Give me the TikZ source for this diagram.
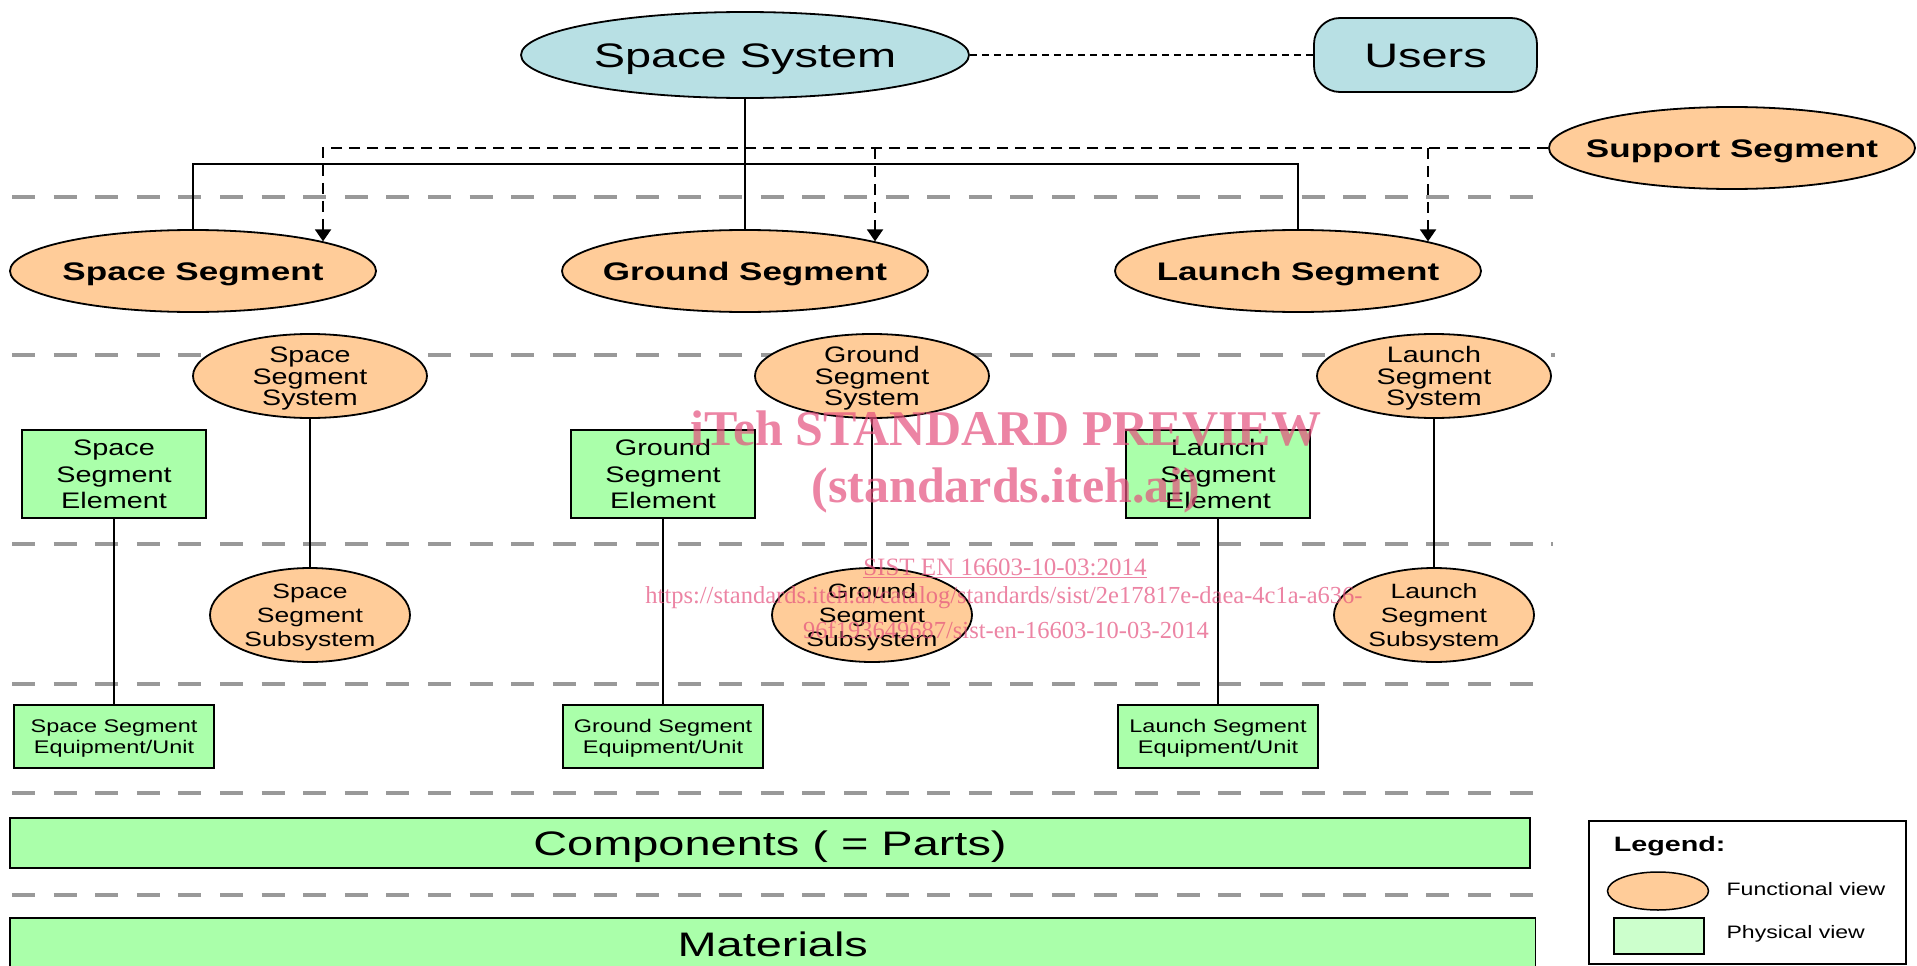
\documentclass[tikz,border=0pt]{standalone}
\usepackage{fontspec}
\setmainfont{Liberation Sans}[FakeStretch=1.28]
\newfontfamily\widesans{Liberation Sans}[FakeStretch=1.38]
\newfontfamily\markfont{Liberation Serif}
\usetikzlibrary{shapes.geometric,arrows.meta}
\definecolor{sysblue}{RGB}{184,224,228}
\definecolor{funcorange}{RGB}{255,204,153}
\definecolor{physgreen}{RGB}{170,255,170}
\definecolor{legendgreen}{RGB}{204,255,204}
\definecolor{sepgray}{RGB}{153,153,153}
\definecolor{markpink}{RGB}{228,80,125}

\begin{document}
\begin{tikzpicture}[x=1pt,y=-1pt,
    every node/.style={inner sep=0pt,line width=1.8pt},
    topnode/.style={draw,ellipse,fill=sysblue,minimum width=448pt,minimum height=86pt,
      text height=24.4pt,text depth=0pt,font=\widesans\fontsize{34}{40}\selectfont},
    userbox/.style={draw,rounded corners=26pt,fill=sysblue,minimum width=223pt,minimum height=74pt,
      text height=24.4pt,text depth=0pt,font=\widesans\fontsize{34}{40}\selectfont},
    segnode/.style={draw,ellipse,fill=funcorange,inner xsep=-30pt,minimum width=366pt,minimum height=82pt,
      text height=18.3pt,text depth=0pt,font=\widesans\bfseries\fontsize{25.4}{30}\selectfont},
    sysnode/.style={draw,ellipse,fill=funcorange,align=center,minimum width=234pt,minimum height=84pt,
      text height=58.4pt,text depth=0pt,font=\fontsize{22.4}{21.2}\selectfont},
    subnode/.style={draw,ellipse,fill=funcorange,align=center,minimum width=200pt,minimum height=94pt,
      text height=63.4pt,text depth=0pt,font=\fontsize{20.7}{24.2}\selectfont},
    elembox/.style={draw,fill=physgreen,align=center,minimum width=184pt,minimum height=88pt,
      text height=69.6pt,text depth=0pt,font=\fontsize{22.5}{26.7}\selectfont},
    unitbox/.style={draw,fill=physgreen,align=center,minimum width=200pt,minimum height=63pt,
      text height=34.3pt,text depth=0pt,font=\fontsize{18.3}{21}\selectfont},
    layerbox/.style={draw,fill=physgreen,minimum height=50pt,
      text height=24.4pt,text depth=0pt,font=\widesans\fontsize{34}{40}\selectfont},
    seprule/.style={sepgray,line width=4.3pt,dash pattern=on 23pt off 18.6pt},
    link/.style={line width=2pt},
    supply/.style={line width=2pt,dash pattern=on 11pt off 7pt,-{Triangle[width=16pt,length=12pt]}},
    wmark/.style={text=markpink,text opacity=0.7,anchor=base},
  ]
  \useasboundingbox (0,0) rectangle (1917,966);

  \draw[seprule] (12,197) -- (1537,197);
  \draw[seprule] (12,355) -- (1555,355);
  \draw[seprule] (12,544) -- (1553,544);
  \draw[seprule] (12,684) -- (1547,684);
  \draw[seprule] (12,793) -- (1537,793);
  \draw[seprule] (12,895) -- (1537,895);

  \draw
    (745,55) node[topnode] (sys){Space System}
    (1425.5,55) node[userbox] (users){Users}
    (1732,148) node[segnode] (sup){Support Segment}
    (193,271) node[segnode] (sseg){Space Segment}
    (745,271) node[segnode] (gseg){Ground Segment}
    (1298,271) node[segnode] (lseg){Launch Segment};
  \draw
    (310,376) node[sysnode] (ssys){Space\\Segment\\System}
    (872,376) node[sysnode] (gsys){Ground\\Segment\\System}
    (1434,376) node[sysnode] (lsys){Launch\\Segment\\System}
    (114,474) node[elembox] (selem){Space\\Segment\\Element}
    (663,474) node[elembox] (gelem){Ground\\Segment\\Element}
    (1218,474) node[elembox] (lelem){Launch\\Segment\\Element}
    (310,615) node[subnode] (ssub){Space\\Segment\\Subsystem}
    (872,615) node[subnode] (gsub){Ground\\Segment\\Subsystem}
    (1434,615) node[subnode] (lsub){Launch\\Segment\\Subsystem}
    (114,736.5) node[unitbox] (sunit){Space Segment\\Equipment/Unit}
    (663,736.5) node[unitbox] (gunit){Ground Segment\\Equipment/Unit}
    (1218,736.5) node[unitbox] (lunit){Launch Segment\\Equipment/Unit}
    (770,843) node[layerbox,minimum width=1520pt] (parts){Components ( = Parts)}
    (772.75,944) node[layerbox,minimum width=1525.5pt,minimum height=52pt] (mat){Materials};

  \coordinate (bus) at (745,164);
  \begin{scope}[link]
    \draw (sys) to (gseg);
    \draw (sseg) |- (bus) -| (lseg);
    \draw[line width=1.4pt,dash pattern=on 7pt off 5pt] (sys) to (users);
    \draw (ssys) to (ssub);
    \draw (gsys) to (gsub);
    \draw (lsys) to (lsub);
    \draw (selem) to (sunit);
    \draw (gelem) to (gunit);
    \draw (lelem) to (lunit);
  \end{scope}
  \draw[supply] (sup) -| (sseg.north east);
  \draw[supply] (sup.west -| gseg.north east) -- (gseg.north east);
  \draw[supply] (sup.west -| lseg.north east) -- (lseg.north east);

  \node[draw,fill=white,minimum width=317pt,minimum height=143pt] (legend) at (1747.5,892.5) {};
  \node[anchor=base west,font=\widesans\bfseries\fontsize{20.8}{25}\selectfont] (legtitle) at (1613,851.7) {Legend:};
  \node[draw,ellipse,fill=funcorange,line width=1.5pt,minimum width=101pt,minimum height=38pt] (legfunc) at (1658,891) {};
  \node[anchor=base west,font=\fontsize{18}{22}\selectfont] (legfunctxt) at (1725.7,895) {Functional view};
  \node[draw,fill=legendgreen,line width=1.5pt,minimum width=90pt,minimum height=36pt] (legphys) at (1659,936) {};
  \node[anchor=base west,font=\fontsize{18}{22}\selectfont] (legphystxt) at (1725.7,938) {Physical view};

  \node[wmark,font=\markfont\bfseries\fontsize{50}{60}\selectfont] (wmtitle) at (1006,445) {iTeh STANDARD PREVIEW};
  \node[wmark,font=\markfont\bfseries\fontsize{50}{60}\selectfont] (wmsite) at (1006,502) {(standards.iteh.ai)};
  \node[wmark,font=\markfont\fontsize{25}{30}\selectfont] (wmstd) at (1005,575) {\underline{SIST EN 16603-10-03:2014}};
  \node[wmark,font=\markfont\fontsize{24.5}{30}\selectfont] (wmurl) at (1004,603) {https://standards.iteh.ai/catalog/standards/sist/2e17817e-daea-4c1a-a636-};
  \node[wmark,font=\markfont\fontsize{24.5}{30}\selectfont] (wmurlb) at (1006,638) {96f193649687/sist-en-16603-10-03-2014};
\end{tikzpicture}
\end{document}
